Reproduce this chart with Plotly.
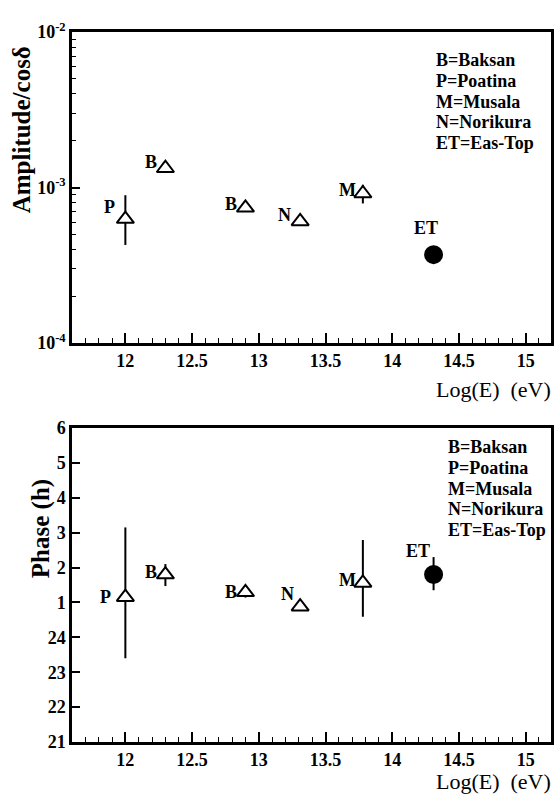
import math
import plotly.graph_objects as go

# ---- data -------------------------------------------------------------
stations = ["P", "B", "B", "N", "M", "ET"]
log_energy = [12.0, 12.3, 12.9, 13.31, 13.78, 14.31]

amplitude = [6.27e-4, 1.33e-3, 7.4e-4, 6.05e-4, 9.15e-4, 3.7e-4]
amp_err_plus = [2.65e-4, 0.5e-4, 0.3e-4, 0.3e-4, 1.25e-4, 0.3e-4]
amp_err_minus = [2.0e-4, 0.5e-4, 0.3e-4, 0.3e-4, 1.25e-4, 0.3e-4]

phase_h = [1.15, 1.80, 1.29, 0.88, 1.56, 1.80]
phase_err_plus = [2.0, 0.3, 0.15, 0.1, 1.23, 0.5]
phase_err_minus = [1.75, 0.33, 0.15, 0.1, 0.97, 0.45]

legend_lines = ["B=Baksan", "P=Poatina", "M=Musala", "N=Norikura", "ET=Eas-Top"]

amp_tick_vals = [1e-4, 1e-3, 1e-2]
amp_tick_text = ["10<sup>-4</sup>", "10<sup>-3</sup>", "10<sup>-2</sup>"]
phase_tick_vals = [21, 22, 23, 24, 25, 26, 27, 28, 29, 30]
phase_tick_text = ["21", "22", "23", "24", "1", "2", "3", "4", "5", "6"]

# ---- styling ----------------------------------------------------------
SERIF = "Liberation Serif, Times New Roman, serif"
symbols = ["triangle-up"] * 5 + ["circle"]
fills = ["white"] * 5 + ["black"]
sizes = [15] * 5 + [17]
# label offsets (px) relative to each marker
amp_label_shift = [(-16, 12), (-14, 6), (-14, 4), (-16, 6), (-15, 4), (-8, 27)]
phase_label_shift = [(-20, 0), (-14, 3), (-14, 0), (-13, 13), (-15, 3), (-16, 24)]

# phase axis runs from 21 h through midnight to 6 h of the next day
phase_axis = [p + 24 if p < 21 else p for p in phase_h]

fig = go.Figure()

marker = dict(symbol=symbols, color=fills, size=sizes, opacity=1,
              line=dict(color="black", width=2))

fig.add_trace(go.Scatter(
    x=log_energy, y=amplitude, mode="markers", marker=marker, opacity=1,
    error_y=dict(type="data", symmetric=False, array=amp_err_plus,
                 arrayminus=amp_err_minus, color="black", thickness=2, width=0),
    xaxis="x", yaxis="y", showlegend=False))

fig.add_trace(go.Scatter(
    x=log_energy, y=phase_axis, mode="markers", marker=marker, opacity=1,
    error_y=dict(type="data", symmetric=False, array=phase_err_plus,
                 arrayminus=phase_err_minus, color="black", thickness=2, width=0),
    xaxis="x2", yaxis="y2", showlegend=False))

label_font = dict(family=SERIF, size=18, color="black", weight="bold")
annotations = []
# annotations on a log axis are placed in log10 units
for name, xv, yv, (dx, dy) in zip(stations, log_energy, amplitude, amp_label_shift):
    annotations.append(dict(x=xv, y=math.log10(yv), xref="x", yref="y",
                            xshift=dx, yshift=dy, text=name, showarrow=False,
                            font=label_font))
for name, xv, yv, (dx, dy) in zip(stations, log_energy, phase_axis, phase_label_shift):
    annotations.append(dict(x=xv, y=yv, xref="x2", yref="y2",
                            xshift=dx, yshift=dy, text=name, showarrow=False,
                            font=label_font))

# station key in both panels
PLOT_TOP, PLOT_BOTTOM, PLOT_LEFT, PLOT_RIGHT = 32, 742, 72, 554


def py(px):
    return (PLOT_BOTTOM - px) / (PLOT_BOTTOM - PLOT_TOP)


def pxx(px):
    return (px - PLOT_LEFT) / (PLOT_RIGHT - PLOT_LEFT)


for x0, y0 in [(436, 60), (448, 447)]:
    for i, line in enumerate(legend_lines):
        annotations.append(dict(x=pxx(x0), y=py(y0 + 20.8 * i), xref="paper", yref="paper",
                                xanchor="left", yanchor="middle", text=line, showarrow=False,
                                font=label_font))

# axis titles
annotations += [
    dict(x=pxx(21), y=py(130), xref="paper", yref="paper", text="Amplitude/cosδ",
         textangle=-90, showarrow=False, xanchor="center", yanchor="middle",
         font=dict(family=SERIF, size=25, color="black", weight="bold")),
    dict(x=pxx(41), y=py(529), xref="paper", yref="paper", text="Phase (h)",
         textangle=-90, showarrow=False, xanchor="center", yanchor="middle",
         font=dict(family=SERIF, size=25, color="black", weight="bold")),
    dict(x=pxx(556), y=py(389), xref="paper", yref="paper", text="Log(E)\u00a0\u00a0(eV)",
         showarrow=False, xanchor="right", yanchor="middle",
         font=dict(family=SERIF, size=22, color="black")),
    dict(x=pxx(556), y=py(781), xref="paper", yref="paper", text="Log(E)\u00a0\u00a0(eV)",
         showarrow=False, xanchor="right", yanchor="middle",
         font=dict(family=SERIF, size=22, color="black")),
]

tick_font = dict(family=SERIF, size=18, color="black", weight="bold")

xaxis_common = dict(
    range=[11.6, 15.19], tickmode="linear", tick0=12, dtick=0.5,
    ticks="inside", ticklen=10, tickwidth=1.5, tickcolor="black",
    minor=dict(ticks="inside", ticklen=5, tickwidth=1, tickcolor="black",
               tick0=12, dtick=0.1, showgrid=False),
    showline=True, linecolor="black", linewidth=2.5, mirror=True,
    showgrid=False, zeroline=False, tickfont=tick_font,
)

top_domain = [py(343), 1.0]
bottom_domain = [0.0, py(428)]

amp_minor = [k * 10.0 ** e for e in (-4, -3) for k in range(2, 10)]

fig.update_layout(
    width=557, height=799,
    margin=dict(l=PLOT_LEFT, r=557 - PLOT_RIGHT, t=PLOT_TOP, b=799 - PLOT_BOTTOM),
    paper_bgcolor="white", plot_bgcolor="white",
    xaxis=dict(xaxis_common, domain=[0, 1], anchor="y"),
    yaxis=dict(
        type="log", range=[-4, -2], domain=top_domain, anchor="x",
        tickmode="array", tickvals=amp_tick_vals, ticktext=amp_tick_text,
        ticks="inside", ticklen=8, tickwidth=1.5, tickcolor="black",
        minor=dict(tickmode="array", tickvals=amp_minor, ticks="inside", ticklen=4,
                   tickwidth=1, tickcolor="black", showgrid=False),
        showline=True, linecolor="black", linewidth=2.5, mirror=True,
        showgrid=False, zeroline=False, tickfont=tick_font,
    ),
    xaxis2=dict(xaxis_common, domain=[0, 1], anchor="y2"),
    yaxis2=dict(
        range=[21, 30], domain=bottom_domain, anchor="x2",
        tickmode="array", tickvals=phase_tick_vals, ticktext=phase_tick_text,
        ticks="inside", ticklen=8, tickwidth=1.5, tickcolor="black",
        showline=True, linecolor="black", linewidth=2.5, mirror=True,
        showgrid=False, zeroline=False, tickfont=tick_font,
    ),
    annotations=annotations,
)

fig.write_html("out.html")
